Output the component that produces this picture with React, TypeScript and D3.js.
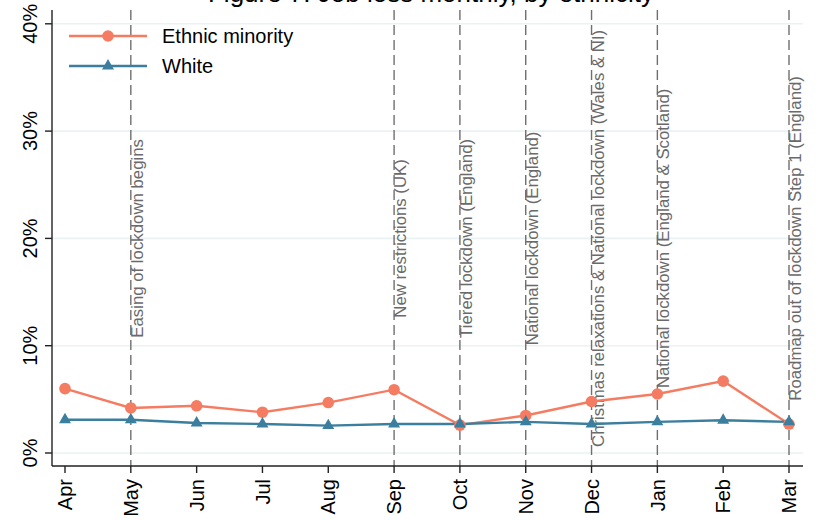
import React from "react";
import * as d3 from "d3";

const months = ["Apr", "May", "Jun", "Jul", "Aug", "Sep", "Oct", "Nov", "Dec", "Jan", "Feb", "Mar"];
const ethnicMinority = [6.0, 4.2, 4.4, 3.8, 4.7, 5.9, 2.6, 3.5, 4.8, 5.5, 6.7, 2.7];
const white = [3.1, 3.1, 2.8, 2.7, 2.55, 2.7, 2.7, 2.9, 2.7, 2.9, 3.05, 2.9];
const yTicks = [0, 10, 20, 30, 40];
const eventMonths = ["May", "Sep", "Oct", "Nov", "Dec", "Jan", "Mar"];
const eventLabels = [
  "Easing of lockdown begins",
  "New restrictions (UK)",
  "Tiered lockdown (England)",
  "National lockdown (England)",
  "Christmas relaxations & National lockdown (Wales & NI)",
  "National lockdown (England & Scotland)",
  "Roadmap out of lockdown Step 1 (England)",
];
const seriesNames = ["Ethnic minority", "White"];
const titleText = "Figure 7: Job loss monthly, by ethnicity";

const W = 823;
const H = 520;
const FONT = "Liberation Sans, Arial, sans-serif";
const C_EM = "#f47c62";
const C_WH = "#3b7e9d";

export default function App() {
  const x = d3.scalePoint<string>().domain(months).range([65, 789]);
  const y = d3.scaleLinear().domain([0, 40]).range([453, 23.8]);
  const plotLeft = 52;
  const plotRight = 803;
  const plotTop = 10;
  const plotBottom = 466;

  const line = d3
    .line<number>()
    .x((_, i) => x(months[i]) as number)
    .y((d) => y(d));

  const tri = d3.symbol().type(d3.symbolTriangle).size(62)();

  return (
    <svg
      width={W}
      height={H}
      style={{ position: "absolute", left: 0, top: 0, background: "#fff" }}
      fontFamily={FONT}
    >
      <rect x={0} y={0} width={W} height={H} fill="#fff" />
      {/* title (mostly clipped at the top edge, as in the source) */}
      <text x={431} y={1.5} textAnchor="middle" fontSize={26} fill="#000">
        {titleText}
      </text>

      {/* gridlines */}
      {yTicks.map((t) => (
        <line
          key={"g" + t}
          x1={plotLeft}
          x2={plotRight}
          y1={y(t)}
          y2={y(t)}
          stroke="#eaf2f4"
          strokeWidth={1.6}
        />
      ))}

      {/* event lines */}
      {eventMonths.map((m, i) => {
        const xx = x(m) as number;
        return (
          <g key={"e" + m}>
            <line
              x1={xx}
              x2={xx}
              y1={plotTop}
              y2={plotBottom}
              stroke="#6f6f6f"
              strokeWidth={1.4}
              strokeDasharray="10,5"
            />
            <text
              transform={`translate(${xx},${y(20)}) rotate(-90)`}
              textAnchor="middle"
              dy={"0.72em"}
              fontSize={16.8}
              fill="#6a6a6a"
            >
              {eventLabels[i]}
            </text>
          </g>
        );
      })}

      {/* series lines */}
      <path d={line(ethnicMinority) || ""} fill="none" stroke={C_EM} strokeWidth={2.4} />
      <path d={line(white) || ""} fill="none" stroke={C_WH} strokeWidth={2.4} />
      {ethnicMinority.map((v, i) => (
        <circle key={"c" + i} cx={x(months[i])} cy={y(v)} r={5.8} fill={C_EM} />
      ))}
      {white.map((v, i) => (
        <path key={"t" + i} d={tri || ""} transform={`translate(${x(months[i])},${y(v)})`} fill={C_WH} />
      ))}

      {/* axes */}
      <line x1={plotLeft} x2={plotLeft} y1={plotTop} y2={plotBottom} stroke="#222" strokeWidth={1.4} />
      <line x1={plotLeft} x2={plotRight} y1={plotBottom} y2={plotBottom} stroke="#222" strokeWidth={1.4} />
      {yTicks.map((t) => (
        <g key={"yt" + t}>
          <line x1={plotLeft - 7} x2={plotLeft} y1={y(t)} y2={y(t)} stroke="#222" strokeWidth={1.4} />
          <text
            transform={`translate(37,${y(t)}) rotate(-90)`}
            textAnchor="middle"
            fontSize={20}
            fill="#000"
          >
            {t + "%"}
          </text>
        </g>
      ))}
      {months.map((m) => (
        <g key={"xt" + m}>
          <line x1={x(m)} x2={x(m)} y1={plotBottom} y2={plotBottom + 7} stroke="#222" strokeWidth={1.4} />
          <text
            transform={`translate(${x(m)},479) rotate(-90)`}
            textAnchor="end"
            dy="0.36em"
            fontSize={20}
            fill="#000"
          >
            {m}
          </text>
        </g>
      ))}

      {/* legend */}
      {seriesNames.map((s, i) => {
        const ly = 36 + i * 30;
        const col = i === 0 ? C_EM : C_WH;
        return (
          <g key={"l" + s}>
            <line x1={69} x2={147} y1={ly} y2={ly} stroke={col} strokeWidth={2.4} />
            {i === 0 ? (
              <circle cx={108} cy={ly} r={5.8} fill={col} />
            ) : (
              <path d={tri || ""} transform={`translate(108,${ly})`} fill={col} />
            )}
            <text x={162} y={ly} dy="0.36em" fontSize={20} fill="#000">
              {s}
            </text>
          </g>
        );
      })}
    </svg>
  );
}
